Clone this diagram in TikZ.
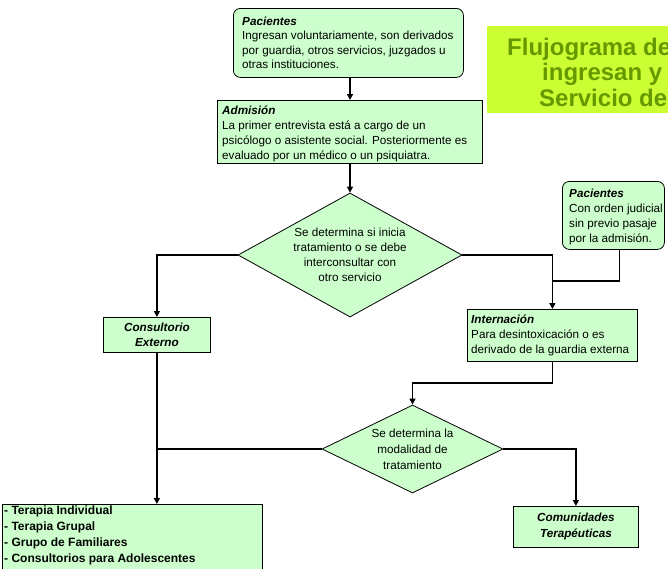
\documentclass[tikz,border=0pt]{standalone}
\usepackage{fontspec}
\setmainfont{Liberation Sans}
\usetikzlibrary{shapes.geometric,arrows.meta}
\definecolor{boxfill}{RGB}{204,255,204}
\definecolor{titlefill}{RGB}{204,255,51}
\definecolor{titletext}{RGB}{102,153,0}
\newcommand{\fsn}{\fontsize{11.7}{15}\selectfont}
\newcommand{\st}{\rule{0pt}{11pt}}
\begin{document}
\begin{tikzpicture}[x=1pt,y=-1pt,
  panel/.style={draw=black, line width=0.8pt, fill=boxfill, inner sep=0pt, anchor=north west},
  txt/.style={anchor=north west, inner sep=0pt, align=left, font=\fsn},
  conn/.style={line width=1.4pt, black},
  arr/.style={conn, -{Triangle[length=6pt,width=6pt]}},
  dia/.style={diamond, draw=black, line width=0.8pt, fill=boxfill, inner sep=0pt, align=center, font=\fsn},
  ttl/.style={anchor=base west, inner sep=0pt, text=titletext, font=\fontsize{24}{25}\selectfont\bfseries}]
\useasboundingbox (0,0) rectangle (668,568);
\clip (0,0) rectangle (668,568);

% title
\node[anchor=north west, fill=titlefill, minimum width=200, minimum height=87, inner sep=0pt] (title) at (487,26) {};
\node[ttl] (t1) at (507,55) {Flujograma de};
\node[ttl] (t2) at (542,80) {ingresan y};
\node[ttl] (t3) at (539,106) {Servicio de};

% boxes
\node[panel, rounded corners=7pt, minimum width=230, minimum height=69] (pac1) at (233,8) {};
\node[txt, font=\fontsize{11.7}{14.5}\selectfont] (pac1t) at (242,14) {\st\textbf{\textit{Pacientes}}\\Ingresan voluntariamente, son derivados\\por guardia, otros servicios, juzgados u\\otras instituciones.};

\node[panel, minimum width=265, minimum height=63] (adm) at (217,100) {};
\node[txt] (admt) at (222,103) {\st\textbf{\textit{Admisión}}\\La primer entrevista está a cargo de un\\psicólogo o asistente social. Posteriormente es\\evaluado por un médico o un psiquiatra.};

\node[panel, rounded corners=7pt, minimum width=102, minimum height=68] (pac2) at (562,181) {};
\node[txt] (pac2t) at (569,186) {\st\textbf{\textit{Pacientes}}\\Con orden judicial\\sin previo pasaje\\por la admisión.};

\node[panel, minimum width=170, minimum height=52] (int) at (467,309) {};
\node[txt] (intt) at (471,312) {\st\textbf{\textit{Internación}}\\Para desintoxicación o es\\derivado de la guardia externa};

\node[panel, minimum width=107, minimum height=35, align=center, font=\fsn\bfseries\itshape] (cons) at (103,317) {Consultorio\\Externo};

\node[panel, minimum width=260, minimum height=75] (list) at (2,504) {};
\node[txt, font=\fontsize{12}{16}\selectfont\bfseries] (listt) at (4,503) {\st- Terapia Individual\\- Terapia Grupal\\- Grupo de Familiares\\- Consultorios para Adolescentes};

\node[panel, minimum width=125, minimum height=41, align=center, font=\fontsize{11.7}{16}\selectfont\bfseries\itshape] (com) at (513,506) {Comunidades\\Terapéuticas};

% decisions
\node[dia, minimum width=224, minimum height=124, aspect=1.806] (d1) at (350,255) {Se determina si inicia\\tratamiento o se debe\\interconsultar con\\otro servicio};
\node[dia, minimum width=181, minimum height=88, aspect=2.06, font=\fontsize{11.7}{16}\selectfont] (d2) at (412.5,449) {Se determina la\\modalidad de\\tratamiento};

% helper coordinates
\coordinate (j) at (int.north |- 0,281);
\coordinate (k) at (d2.north |- 0,383);

% connectors
\draw[arr] (pac1.south -| d1.north) -- (adm.north -| d1.north);
\draw[arr] (adm.south -| d1.north) -- (d1.north);
\draw[arr] (d1.west) -| (cons.north);
\draw[arr] (d1.east) -| (int.north);
\draw[conn] ([xshift=6pt]pac2.south) |- (j);
\draw[arr] (int.south) |- (k) -- (d2.north);
\draw[arr] (cons.south) -- (cons.south |- list.north);
\draw[conn] (d2.west) -- (d2.west -| cons.south);
\draw[arr] (d2.east) -| (com.north);
\end{tikzpicture}
\end{document}
